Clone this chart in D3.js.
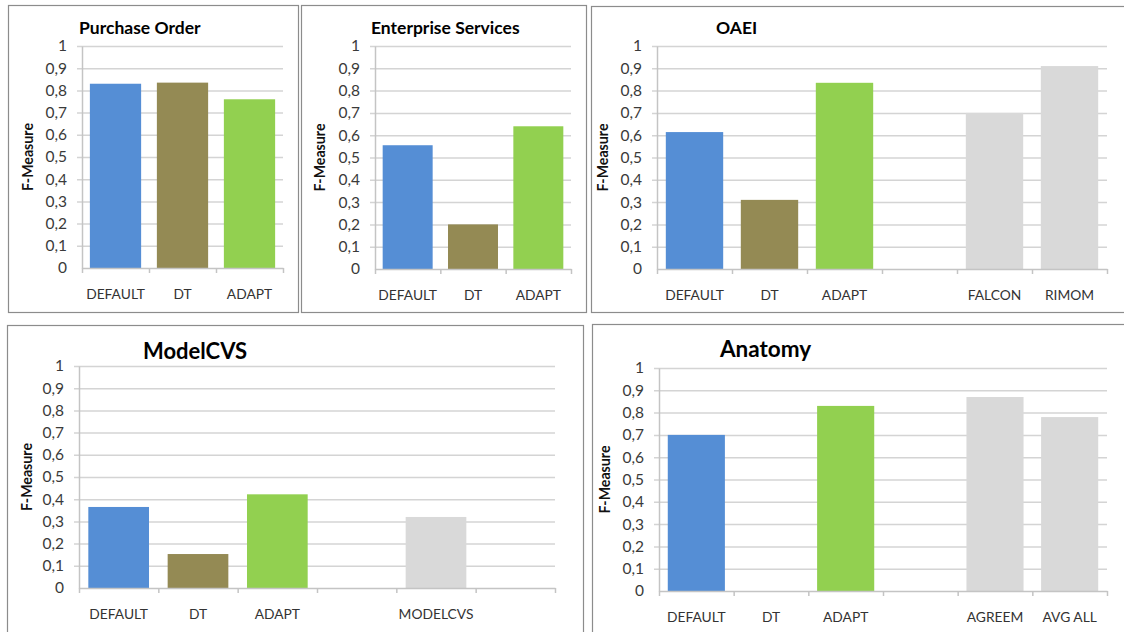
<!DOCTYPE html>
<html>
<head>
<meta charset="utf-8">
<script src="https://cdn.jsdelivr.net/npm/d3@7"></script>
<style>
  body { margin: 0; background: #fff; }
  svg { display: block; font-family: Lato, "Noto Sans", sans-serif; }
</style>
</head>
<body>
<svg id="chart" width="1124" height="632"></svg>
<script>
'use strict'

// ---------------------------------------------------------- DATA -------
const yTicks = [0, 0.1, 0.2, 0.3, 0.4, 0.5, 0.6, 0.7, 0.8, 0.9, 1]
const yTickLabels = ['0', '0,1', '0,2', '0,3', '0,4', '0,5', '0,6', '0,7', '0,8', '0,9', '1']
const yLabel = 'F-Measure'

const purchaseCats = ['DEFAULT', 'DT', 'ADAPT']
const purchaseValues = [0.83, 0.835, 0.76]

const enterpriseCats = ['DEFAULT', 'DT', 'ADAPT']
const enterpriseValues = [0.555, 0.2, 0.64]

const oaeiCats = ['DEFAULT', 'DT', 'ADAPT', '', 'FALCON', 'RIMOM']
const oaeiValues = [0.614, 0.31, 0.835, null, 0.7, 0.91]

const modelCats = ['DEFAULT', 'DT', 'ADAPT', '', 'MODELCVS', '']
const modelValues = [0.365, 0.153, 0.422, null, 0.32, null]

const anatomyCats = ['DEFAULT', 'DT', 'ADAPT', '', 'AGREEM', 'AVG ALL']
const anatomyValues = [0.70, null, 0.83, null, 0.87, 0.78]

const barColors = ['#558ED5', '#948A54', '#92D050']
const otherColor = '#D9D9D9'

// ------------------------------------------------------ LAYOUT -------
let svg = d3.select('#chart')

const panels = [
  { title: 'Purchase Order', cats: purchaseCats, values: purchaseValues,
    frame: [8, 5, 290, 307], plot: [82, 46, 201, 222], titleX: 79, titleY: 34, titleSize: 17.5, ylabX: 28 },
  { title: 'Enterprise Services', cats: enterpriseCats, values: enterpriseValues,
    frame: [301, 5, 285, 307], plot: [375, 46, 196, 223], titleX: 371, titleY: 34, titleSize: 17.5, ylabX: 320 },
  { title: 'OAEI', cats: oaeiCats, values: oaeiValues,
    frame: [591, 6, 540, 306], plot: [657, 46, 450, 223], titleX: 716, titleY: 34, titleSize: 17.5, ylabX: 603 },
  { title: 'ModelCVS', cats: modelCats, values: modelValues,
    frame: [7, 325, 576, 320], plot: [79, 366, 476, 222], titleX: 143, titleY: 359, titleSize: 22, ylabX: 27 },
  { title: 'Anatomy', cats: anatomyCats, values: anatomyValues,
    frame: [592, 324, 540, 320], plot: [659, 368, 448, 223], titleX: 720, titleY: 357, titleSize: 22.5, ylabX: 605 }
]

function drawPanel(p) {

  let [fx, fy, fw, fh] = p.frame
  svg.append('rect')
    .attr('x', fx + 0.5).attr('y', fy + 0.5)
    .attr('width', fw).attr('height', fh)
    .attr('fill', '#fff')
    .attr('stroke', '#8c8c8c')
    .attr('stroke-width', 1.2)

  let [px, py, pw, ph] = p.plot
  let g = svg.append('g').attr('transform', 'translate(' + px + ',' + py + ')')

  // --- scales
  let n = p.cats.length
  let x = d3.scaleBand()
    .domain(d3.range(n))
    .range([0, pw])
    .paddingInner(0.235)
    .paddingOuter(0.1175)

  let xEdges = d3.scaleLinear().domain([0, n]).range([0, pw])

  let y = d3.scaleLinear().domain([0, 1]).range([ph, 0])

  // --- grid (gridlines stick out a little left of the axis)
  let grid = g.append('g')
    .attr('transform', 'translate(-5,0)')
    .call(d3.axisLeft(y).tickValues(yTicks.slice(1)).tickSize(-(pw + 5)).tickFormat(''))
  grid.select('.domain').remove()
  grid.selectAll('line').attr('stroke', '#d4d4d4').attr('stroke-width', 1.5)

  // --- y labels
  let yAx = g.append('g')
    .call(d3.axisLeft(y).tickValues(yTicks).tickSize(0).tickPadding(15)
      .tickFormat((d, i) => yTickLabels[i]))
  yAx.select('.domain').remove()
  yAx.selectAll('text')
    .attr('font-family', 'Lato, sans-serif')
    .attr('font-size', 15.5)
    .attr('fill', '#3a3a3a')

  // --- bars
  g.selectAll('rect.bar')
    .data(p.values.map((v, i) => ({ v: v, i: i })).filter(d => d.v != null))
    .enter()
    .append('rect')
      .attr('class', 'bar')
      .attr('x', d => x(d.i))
      .attr('y', d => y(d.v))
      .attr('width', x.bandwidth())
      .attr('height', d => y(0) - y(d.v))
      .attr('fill', d => d.i < barColors.length ? barColors[d.i] : otherColor)

  // --- axes lines
  let yLine = g.append('g')
    .call(d3.axisLeft(y).tickValues([]).tickSizeOuter(0))
  yLine.select('.domain').attr('stroke', '#c4c4c4').attr('stroke-width', 1.5)

  let xAx = g.append('g')
    .attr('transform', 'translate(0,' + ph + ')')
    .call(d3.axisBottom(xEdges).tickValues(d3.range(n + 1)).tickSize(5).tickSizeOuter(0).tickFormat(''))
  xAx.select('.domain').attr('stroke', '#c4c4c4').attr('stroke-width', 1.5)
  xAx.selectAll('line').attr('stroke', '#c4c4c4').attr('stroke-width', 1.5)

  // --- category labels
  g.selectAll('text.cat')
    .data(p.cats)
    .enter()
    .append('text')
      .attr('class', 'cat')
      .attr('x', (d, i) => x(i) + x.bandwidth() / 2)
      .attr('y', ph + 31)
      .attr('text-anchor', 'middle')
      .attr('font-size', 13.8)
      .attr('fill', '#333')
      .text(d => d)

  // --- y title
  svg.append('text')
    .attr('transform', 'translate(' + p.ylabX + ',' + (py + ph / 2) + ') rotate(-90)')
    .attr('text-anchor', 'middle')
    .attr('dy', '0.35em')
    .attr('font-size', 14.2)
    .attr('font-weight', 'bold')
    .attr('fill', '#111')
    .text(yLabel)

  // --- title
  svg.append('text')
    .attr('x', p.titleX)
    .attr('y', p.titleY)
    .attr('font-size', p.titleSize)
    .attr('font-weight', 'bold')
    .attr('fill', '#000')
    .text(p.title)
}

panels.forEach(drawPanel)
</script>
</body>
</html>
